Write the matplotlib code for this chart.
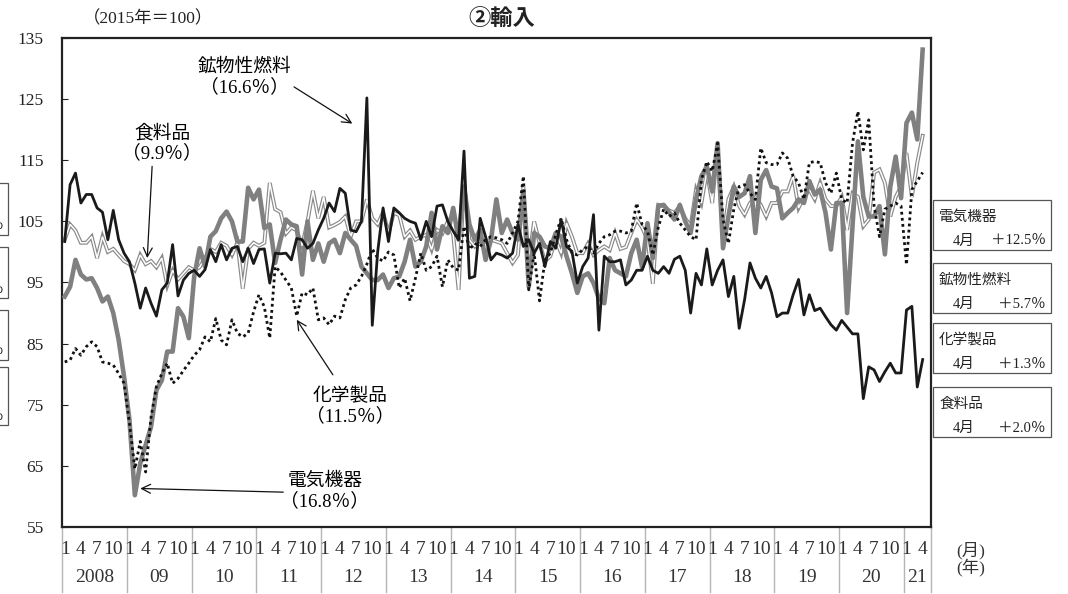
import matplotlib
matplotlib.use("Agg")
import matplotlib.pyplot as plt
from matplotlib.patches import Rectangle
import numpy as np

W, H = 1068, 594

# 2008年1月～2021年4月、月次 (2015年=100)
years = ["2008", "09", "10", "11", "12", "13", "14", "15", "16", "17", "18", "19", "20", "21"]
month_marks = [1, 4, 7, 10]

electrical = [
    92.7, 94.3, 98.7, 96.3, 95.5, 95.7, 94.1, 91.9, 92.7, 90.0, 85.6, 79.6,
    72.5, 60.2, 65.4, 68.4, 71.4, 77.4, 79.0, 83.7, 83.7, 90.8, 89.4, 85.9,
    96.0, 100.6, 97.6, 102.5, 103.4, 105.5, 106.6, 105.0, 101.7, 101.7, 110.5, 108.6,
    110.2, 103.9, 104.5, 98.2, 102.0, 105.3, 104.5, 104.2, 96.3, 105.0, 98.7, 101.4,
    98.4, 101.4, 102.0, 99.8, 103.1, 102.0, 101.0, 97.6, 96.5, 95.4, 95.4, 96.3,
    94.1, 95.7, 96.0, 98.4, 102.0, 97.6, 98.4, 100.9, 106.4, 100.4, 104.2, 103.1,
    107.2, 102.0, 110.7, 104.5, 102.0, 103.6, 98.7, 102.0, 108.6, 103.1, 105.3, 103.1,
    102.0, 109.9, 94.3, 103.1, 102.5, 100.9, 100.6, 103.1, 102.5, 99.3, 96.5, 93.3,
    96.0, 96.5, 94.9, 92.4, 91.6, 99.0, 97.0, 96.5, 96.0, 99.8, 102.0, 97.5,
    104.7, 99.0, 107.5, 107.7, 106.5, 105.3, 107.7, 105.0, 103.1, 108.6, 112.4, 114.0,
    109.9, 117.8, 100.6, 105.8, 110.7, 109.0, 109.6, 112.4, 103.1, 111.8, 113.4, 110.7,
    110.4, 105.5, 106.4, 107.2, 108.6, 108.0, 111.6, 109.4, 110.2, 106.4, 100.4, 108.0,
    108.0, 90.0, 104.2, 118.1, 109.0, 105.8, 105.8, 107.5, 99.6, 110.7, 115.6, 108.8,
    121.1, 122.8, 118.4, 133.1,
]

mineral = [
    101.7, 111.0, 112.9, 108.0, 109.4, 109.4, 107.2, 106.5, 102.0, 106.8, 102.0, 99.8,
    98.4, 94.9, 90.8, 94.1, 91.6, 89.5, 93.8, 94.9, 101.2, 92.8, 95.4, 96.5,
    97.0, 96.0, 97.1, 100.4, 98.4, 101.2, 98.7, 100.6, 100.9, 98.4, 100.6, 98.1,
    100.4, 100.5, 94.9, 99.8, 99.7, 99.8, 98.7, 102.2, 102.0, 100.6, 101.4, 103.6,
    105.5, 108.0, 106.6, 110.4, 109.6, 103.6, 103.3, 105.0, 125.2, 88.0, 100.0, 107.2,
    101.7, 107.2, 106.4, 105.5, 105.0, 104.7, 102.0, 105.0, 102.5, 107.5, 107.7, 105.0,
    103.4, 102.0, 116.5, 95.7, 96.0, 105.5, 102.5, 98.7, 99.8, 99.5, 99.0, 99.8,
    104.5, 100.9, 102.0, 99.8, 101.4, 97.6, 101.7, 100.6, 105.3, 100.9, 100.1, 94.9,
    97.6, 99.0, 106.1, 87.2, 99.3, 98.4, 98.4, 98.7, 94.6, 95.4, 97.0, 97.0,
    99.3, 97.0, 96.5, 97.6, 96.5, 98.8, 99.3, 97.0, 90.0, 96.5, 94.6, 100.5,
    94.6, 97.0, 98.7, 92.7, 96.0, 87.5, 92.2, 98.2, 95.7, 94.1, 96.0, 93.3,
    89.4, 90.0, 90.0, 93.0, 95.5, 89.7, 93.0, 90.4, 90.8, 89.4, 88.1, 87.2,
    88.8, 87.7, 86.6, 86.6, 76.0, 81.2, 80.7, 78.8, 80.4, 81.8, 80.2, 80.2,
    90.5, 91.1, 77.9, 82.4,
]

chemical = [
    82.0, 82.3, 84.2, 83.1, 84.5, 85.3, 84.5, 82.0, 81.8, 81.5, 80.1, 78.5,
    72.0, 64.5, 69.0, 64.0, 73.0, 78.0, 80.1, 81.8, 78.5, 79.3, 80.6, 81.8,
    83.1, 84.0, 86.1, 85.3, 89.1, 85.6, 84.8, 88.9, 86.7, 86.1, 86.7, 90.2,
    93.0, 91.0, 85.9, 97.6, 96.7, 95.4, 94.1, 89.5, 93.3, 93.0, 94.1, 88.9,
    89.2, 88.1, 89.5, 89.2, 92.2, 94.1, 94.6, 96.0, 98.0, 100.5, 99.0, 98.5,
    100.0, 99.5, 94.1, 95.7, 92.0, 95.7, 99.8, 97.0, 97.6, 99.3, 94.3, 98.7,
    97.4, 97.0, 104.2, 100.4, 101.4, 100.9, 102.0, 102.5, 102.3, 102.0, 101.4, 103.1,
    105.0, 112.4, 93.8, 99.8, 92.0, 98.7, 99.8, 102.8, 105.5, 102.0, 99.8, 99.5,
    100.4, 100.9, 99.8, 101.4, 102.5, 102.8, 103.4, 103.4, 103.1, 103.4, 108.0, 104.5,
    103.4, 99.5, 104.0, 107.0, 105.8, 106.4, 104.7, 103.6, 102.5, 102.0, 111.8, 114.8,
    113.2, 117.8, 105.3, 101.4, 107.0, 110.7, 111.0, 109.6, 108.6, 117.0, 114.6, 114.3,
    114.3, 116.2, 115.3, 112.4, 111.3, 108.6, 114.6, 114.8, 114.6, 111.3, 109.6, 112.9,
    108.6, 108.0, 117.8, 123.0, 116.7, 121.6, 107.5, 102.5, 107.0, 107.5, 108.0, 107.5,
    97.9, 110.2, 111.6, 113.0,
]

food = [
    102.0, 104.5, 103.5, 101.5, 101.5, 102.5, 99.0, 102.5, 100.0, 100.5, 99.5, 98.5,
    98.0, 97.0, 99.5, 98.0, 98.5, 97.5, 99.0, 94.5, 97.0, 95.5, 96.5, 97.5,
    97.0, 97.5, 99.0, 100.5, 100.0, 101.5, 101.0, 99.5, 101.5, 94.0, 100.5, 101.5,
    101.0, 101.5, 111.3, 107.0, 106.5, 103.0, 104.0, 103.5, 101.0, 105.0, 110.0, 105.5,
    109.0, 104.0, 104.4, 104.9, 105.8, 102.5, 105.0, 105.0, 108.6, 105.5, 104.5, 106.5,
    103.1, 106.4, 106.0, 102.5, 103.5, 102.0, 102.5, 102.8, 100.4, 103.6, 103.0, 105.0,
    102.8, 93.8, 111.3, 102.0, 100.9, 102.0, 101.7, 102.0, 101.7, 101.4, 99.8, 98.2,
    99.5, 110.7, 98.7, 105.0, 101.4, 98.5, 99.3, 102.0, 99.8, 104.7, 102.5, 99.8,
    99.8, 101.4, 99.5, 100.3, 100.9, 100.3, 103.1, 100.5, 100.8, 103.1, 105.3, 104.0,
    102.0, 94.8, 107.7, 107.5, 106.8, 106.4, 107.5, 105.5, 104.2, 110.2, 108.0, 113.2,
    108.0, 117.2, 102.0, 108.6, 110.7, 107.5, 106.1, 108.0, 109.0, 107.7, 105.8, 108.0,
    108.0, 109.9, 109.9, 112.4, 107.2, 109.0, 110.2, 108.6, 111.3, 108.6, 107.5, 107.5,
    109.0, 103.6, 109.6, 109.0, 104.2, 105.3, 113.0, 113.5, 111.3, 105.8, 109.0, 110.7,
    116.2, 109.0, 114.6, 119.0,
]

box_names = ["電気機器", "鉱物性燃料", "化学製品", "食料品"]
box_changes = ["＋12.5％", "＋5.7％", "＋1.3％", "＋2.0％"]

serif_jp = ["Liberation Serif", "Noto Sans CJK JP"]
plt.rcParams["font.family"] = serif_jp

x = np.arange(len(electrical))

fig = plt.figure(figsize=(W / 100, H / 100), dpi=100)
ax = fig.add_axes([62 / W, (H - 527) / H, (931 - 62) / W, (527 - 38) / H])

# 食料品: 二重線
ax.plot(x, food, color="#8a8a8a", lw=2.8, zorder=2, solid_joinstyle="miter")
ax.plot(x, food, color="white", lw=1.1, zorder=2.1, solid_joinstyle="miter")
ax.plot(x, electrical, color="#808080", lw=3.3, zorder=3)
ax.plot(x, chemical, color="#111111", lw=2.0, ls=(0, (1, 1.2)), zorder=4)
ax.plot(x, mineral, color="#1a1a1a", lw=2.0, zorder=5)

ax.set_xlim(-0.5, -0.5 + 869 / 5.396)
ax.set_ylim(55, 135)
ax.set_yticks(range(55, 136, 10))
ax.tick_params(axis="y", direction="in", length=4, width=0.8, pad=13, labelsize=12.5, colors="#222222")
ax.set_xticks([])
for s in ax.spines.values():
    s.set_linewidth(1.6)
    s.set_color("#222222")

# 下の目盛り表
trans = ax.get_xaxis_transform()
bounds = [12 * k - 0.5 for k in range(len(years))] + [ax.get_xlim()[1]]
for b in bounds:
    ax.plot([b, b], [0, -0.133], transform=trans, color="#b5b5b5", lw=1.0, clip_on=False)
for k, yr in enumerate(years):
    start = 12 * k
    n = 12 if k < len(years) - 1 else 4
    for m in month_marks:
        if m <= n:
            ax.text(start + m - 1, -0.047, str(m), transform=trans, ha="center", va="center",
                    fontsize=14, color="#333333")
    cx = (bounds[k] + bounds[k + 1]) / 2
    ax.text(cx, -0.104, yr, transform=trans, ha="center", va="center", fontsize=14, color="#333333")

fig.text(956 / W, 1 - 551 / H, "(月)", ha="left", va="center", fontsize=12.5, color="#333333")
fig.text(956 / W, 1 - 567 / H, "(年)", ha="left", va="center", fontsize=12.5, color="#333333")

# 見出し
fig.text(148 / W, 1 - 19 / H, "（2015年＝100）", ha="center", va="center", fontsize=12.5, color="#222222")
fig.text(502 / W, 1 - 18 / H, "②輸入", ha="center", va="center", fontsize=16,
         fontweight="bold", family="Noto Sans CJK JP", color="#222222")

# 注記
arrow = dict(arrowstyle="->", color="#111111", lw=0.9, mutation_scale=16, shrinkA=0, shrinkB=0)
ax.text(33.4, 128.6, "鉱物性燃料\n（16.6％）", ha="center", va="center", fontsize=13.5, linespacing=1.15)
ax.annotate("", xy=(53.3, 121.0), xytext=(42.5, 127.0), arrowprops=arrow)
ax.text(18.1, 117.7, "食料品\n（9.9％）", ha="center", va="center", fontsize=13.5, linespacing=1.15)
ax.annotate("", xy=(15.3, 99.0), xytext=(16.2, 114.0), arrowprops=arrow)
ax.text(52.9, 74.7, "化学製品\n（11.5％）", ha="center", va="center", fontsize=13.5, linespacing=1.15)
ax.annotate("", xy=(43.0, 88.9), xytext=(49.7, 79.9), arrowprops=arrow)
ax.text(48.2, 60.8, "電気機器\n（16.8％）", ha="center", va="center", fontsize=13.5, linespacing=1.15)
ax.annotate("", xy=(14.0, 61.3), xytext=(40.5, 60.7), arrowprops=arrow)

# 右側の前年比ボックス
tops = [200, 263, 323, 387]
for top, name, chg in zip(tops, box_names, box_changes):
    fig.patches.append(Rectangle((933 / W, 1 - (top + 50) / H), 118 / W, 50 / H, transform=fig.transFigure,
                                 fill=False, edgecolor="#555555", lw=0.9))
    fig.text(939 / W, 1 - (top + 17) / H, name, ha="left", va="center", fontsize=10.5, color="#222222")
    fig.text(953 / W, 1 - (top + 41) / H, "4月", ha="left", va="center", fontsize=10.5, color="#222222")
    fig.text(1046 / W, 1 - (top + 41) / H, chg, ha="right", va="center", fontsize=10.5, color="#222222")

# 左端に切れて見える隣のグラフのボックス
for top, bot in [(183, 235), (247, 298), (310, 360), (367, 425)]:
    fig.patches.append(Rectangle((-60 / W, 1 - bot / H), 68 / W, (bot - top) / H, transform=fig.transFigure,
                                 fill=False, edgecolor="#555555", lw=0.9))
    fig.text(3 / W, 1 - (bot - 9) / H, "％", ha="right", va="center", fontsize=10.5, color="#222222")

fig.savefig("out.png", dpi=100)
